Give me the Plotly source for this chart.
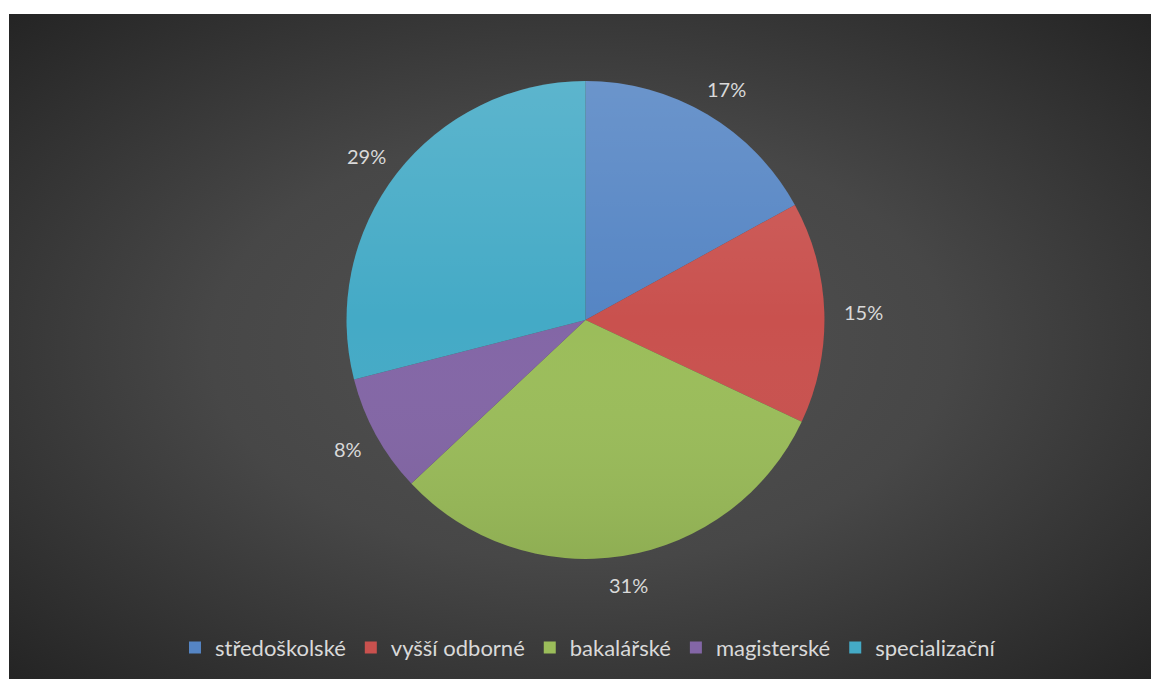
import base64
import math
import plotly.graph_objects as go

# Share of each education level (percent)
categories = ["středoškolské", "vyšší odborné", "bakalářské", "magisterské", "specializační"]
shares = [17, 15, 31, 8, 29]
colors = ["#5585c4", "#c9514e", "#9bbd5a", "#8366a6", "#44aac6"]

W, H = 1151, 679
M_L, M_T = 9, 14
PW, PH = W - M_L, H - M_T

# pie box in paper fractions
dom_x = [0.2955, 0.7141]
dom_y = [0.1805, 0.8992]

text_col = "#d9d9d9"
font_family = "Lato, 'Noto Sans', sans-serif"


def svg_uri(svg):
    return "data:image/svg+xml;base64," + base64.b64encode(svg.encode()).decode()


# dark radial backdrop
bg_svg = (
    '<svg xmlns="http://www.w3.org/2000/svg" width="1142" height="665" preserveAspectRatio="none">'
    '<defs><radialGradient id="g" cx="50%" cy="50%" r="72%">'
    '<stop offset="0" stop-color="#525252"/>'
    '<stop offset="0.45" stop-color="#474747"/>'
    '<stop offset="1" stop-color="#232323"/>'
    '</radialGradient></defs>'
    '<rect width="1142" height="665" fill="url(#g)"/></svg>'
)

# soft vertical sheen over the pie (lighter top, darker bottom)
sheen_svg = (
    '<svg xmlns="http://www.w3.org/2000/svg" width="400" height="400">'
    '<defs><linearGradient id="s" x1="0" y1="0" x2="0" y2="1">'
    '<stop offset="0" stop-color="#ffffff" stop-opacity="0.13"/>'
    '<stop offset="0.5" stop-color="#ffffff" stop-opacity="0"/>'
    '<stop offset="1" stop-color="#000000" stop-opacity="0.08"/>'
    '</linearGradient></defs>'
    '<circle cx="200" cy="200" r="200" fill="url(#s)"/></svg>'
)

fig = go.Figure(
    go.Pie(
        labels=categories,
        values=shares,
        sort=False,
        direction="clockwise",
        rotation=0,
        marker=dict(colors=colors, line=dict(width=0)),
        textinfo="none",
        hoverinfo="label+percent",
        domain=dict(x=dom_x, y=dom_y),
    )
)

# percentage labels placed just outside each slice: the label box sits a
# fixed gap beyond the rim, pushed outward by half its own size
cx = (dom_x[0] + dom_x[1]) / 2 * PW
cy = (1 - (dom_y[0] + dom_y[1]) / 2) * PH
r = min((dom_x[1] - dom_x[0]) * PW, (dom_y[1] - dom_y[0]) * PH) / 2
gap = 20
char_w, box_h = 12.5, 18
total = sum(shares)
annotations = []
cum = 0
for v in shares:
    mid = (cum + v / 2) / total
    cum += v
    th = 2 * math.pi * mid
    ux, uy = math.sin(th), -math.cos(th)
    txt = f"{round(100 * v / total)}%"
    box_w = char_w * len(txt)
    px = cx + (r + gap) * ux + ux * box_w / 2
    py = cy + (r + gap) * uy + uy * box_h / 2
    annotations.append(dict(
        x=px / PW, y=1 - py / PH, xref="paper", yref="paper",
        text=txt, showarrow=False,
        font=dict(size=20, color=text_col, family=font_family),
        xanchor="center", yanchor="middle",
    ))

fig.update_layout(
    width=W, height=H,
    margin=dict(l=M_L, t=M_T, r=0, b=0),
    paper_bgcolor="white",
    plot_bgcolor="rgba(0,0,0,0)",
    font=dict(family=font_family, color=text_col, size=20),
    showlegend=True,
    legend=dict(
        orientation="h", x=0.507, xanchor="center", y=0.047, yanchor="middle",
        font=dict(size=22, color=text_col, family=font_family),
        bgcolor="rgba(0,0,0,0)", itemclick=False, itemdoubleclick=False,
    ),
    annotations=annotations,
    images=[
        dict(source=svg_uri(bg_svg), xref="paper", yref="paper", x=0, y=1,
             sizex=1, sizey=1, sizing="stretch", layer="below",
             xanchor="left", yanchor="top"),
        dict(source=svg_uri(sheen_svg), xref="paper", yref="paper",
             x=(cx - r) / PW, y=1 - (cy - r) / PH,
             sizex=2 * r / PW, sizey=2 * r / PH, sizing="stretch", layer="above",
             xanchor="left", yanchor="top"),
    ],
)

fig.write_html("out.html")
